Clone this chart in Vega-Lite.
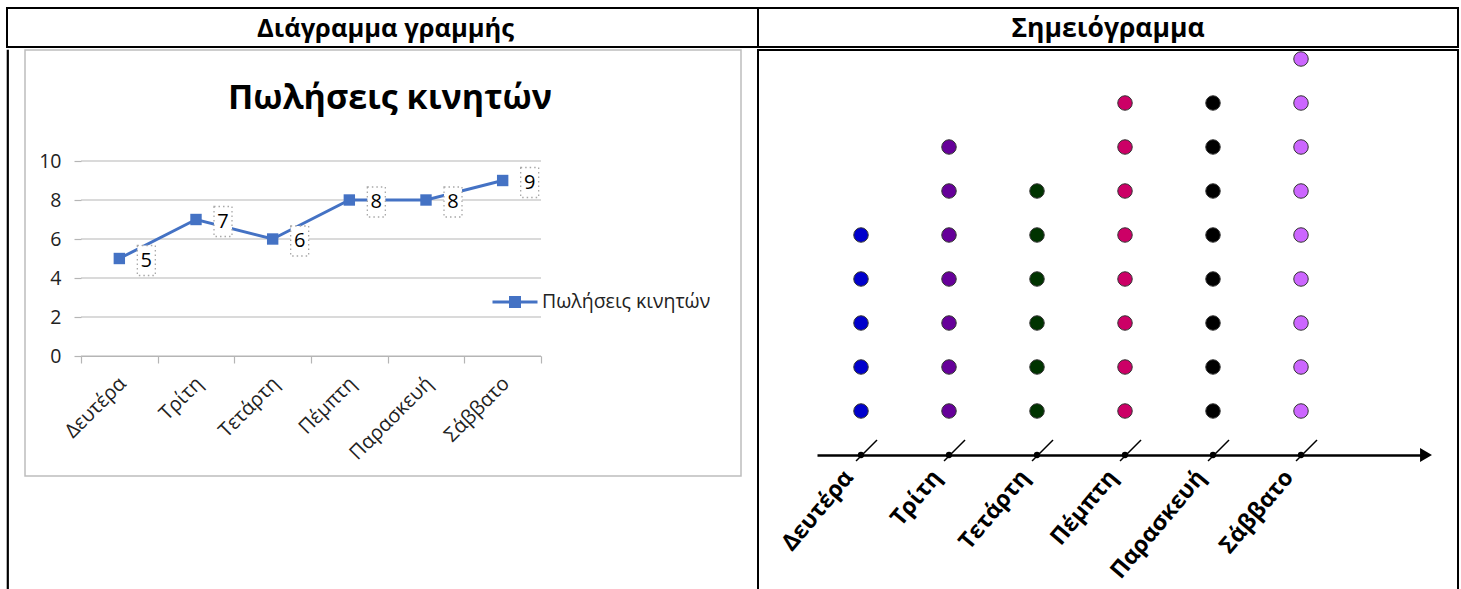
{
  "$schema": "https://vega.github.io/schema/vega-lite/v6.json",
  "padding": {"left": 6, "top": 7, "right": 0, "bottom": 0},
  "background": "white",
  "config": {"font": "Open Sans", "view": {"stroke": null}},
  "datasets": {
    "sales": [
      {"day": "Δευτέρα", "sales": 5, "series": "Πωλήσεις κινητών"},
      {"day": "Τρίτη", "sales": 7, "series": "Πωλήσεις κινητών"},
      {"day": "Τετάρτη", "sales": 6, "series": "Πωλήσεις κινητών"},
      {"day": "Πέμπτη", "sales": 8, "series": "Πωλήσεις κινητών"},
      {"day": "Παρασκευή", "sales": 8, "series": "Πωλήσεις κινητών"},
      {"day": "Σάββατο", "sales": 9, "series": "Πωλήσεις κινητών"}
    ],
    "grid": [{"g": 0}, {"g": 2}, {"g": 4}, {"g": 6}, {"g": 8}, {"g": 10}],
    "dots": [
      {"day": "Δευτέρα", "n": 1}, {"day": "Δευτέρα", "n": 2}, {"day": "Δευτέρα", "n": 3}, {"day": "Δευτέρα", "n": 4}, {"day": "Δευτέρα", "n": 5},
      {"day": "Τρίτη", "n": 1}, {"day": "Τρίτη", "n": 2}, {"day": "Τρίτη", "n": 3}, {"day": "Τρίτη", "n": 4}, {"day": "Τρίτη", "n": 5}, {"day": "Τρίτη", "n": 6}, {"day": "Τρίτη", "n": 7},
      {"day": "Τετάρτη", "n": 1}, {"day": "Τετάρτη", "n": 2}, {"day": "Τετάρτη", "n": 3}, {"day": "Τετάρτη", "n": 4}, {"day": "Τετάρτη", "n": 5}, {"day": "Τετάρτη", "n": 6},
      {"day": "Πέμπτη", "n": 1}, {"day": "Πέμπτη", "n": 2}, {"day": "Πέμπτη", "n": 3}, {"day": "Πέμπτη", "n": 4}, {"day": "Πέμπτη", "n": 5}, {"day": "Πέμπτη", "n": 6}, {"day": "Πέμπτη", "n": 7}, {"day": "Πέμπτη", "n": 8},
      {"day": "Παρασκευή", "n": 1}, {"day": "Παρασκευή", "n": 2}, {"day": "Παρασκευή", "n": 3}, {"day": "Παρασκευή", "n": 4}, {"day": "Παρασκευή", "n": 5}, {"day": "Παρασκευή", "n": 6}, {"day": "Παρασκευή", "n": 7}, {"day": "Παρασκευή", "n": 8},
      {"day": "Σάββατο", "n": 1}, {"day": "Σάββατο", "n": 2}, {"day": "Σάββατο", "n": 3}, {"day": "Σάββατο", "n": 4}, {"day": "Σάββατο", "n": 5}, {"day": "Σάββατο", "n": 6}, {"day": "Σάββατο", "n": 7}, {"day": "Σάββατο", "n": 8}, {"day": "Σάββατο", "n": 9}
    ]
  },
  "spacing": 0,
  "resolve": {"scale": {"color": "independent"}, "legend": {"color": "independent"}},
  "vconcat": [
    {
      "spacing": 0,
      "bounds": "flush",
      "hconcat": [
        {
          "width": 751, "height": 39,
          "view": {"stroke": "black", "strokeWidth": 2},
          "data": {"values": [{"h": "Διάγραμμα γραμμής"}]},
          "mark": {"type": "text", "fontSize": 25.5, "fontWeight": "bold", "color": "black", "dx": 3, "dy": 1},
          "encoding": {"text": {"field": "h"}}
        },
        {
          "width": 700, "height": 39,
          "view": {"stroke": "black", "strokeWidth": 2},
          "data": {"values": [{"h": "Σημειόγραμμα"}]},
          "mark": {"type": "text", "fontSize": 26.5, "fontWeight": "bold", "color": "black", "dy": 1},
          "encoding": {"text": {"field": "h"}}
        }
      ]
    },
    {
      "spacing": 17,
      "bounds": "flush",
      "resolve": {"scale": {"color": "independent"}, "legend": {"color": "independent"}},
      "hconcat": [
        {
          "width": 1, "height": 560,
          "view": {"stroke": "black", "strokeWidth": 1.2},
          "data": {"values": [{"h": ""}]},
          "mark": {"type": "text"},
          "encoding": {"text": {"field": "h"}}
        },
        {
          "width": 716, "height": 426,
          "view": {"stroke": "#bdbdbd", "strokeWidth": 1.5},
          "title": {"text": "Πωλήσεις κινητών", "frame": "group", "anchor": "middle", "offset": -66, "dx": 7, "fontSize": 34, "fontWeight": "bold", "color": "black", "font": "Open Sans"},
          "encoding": {
            "x": {
              "field": "day", "type": "nominal", "sort": null, "title": null,
              "scale": {"type": "band", "domain": ["Δευτέρα", "Τρίτη", "Τετάρτη", "Πέμπτη", "Παρασκευή", "Σάββατο"], "range": [56, 516], "paddingInner": 0, "paddingOuter": 0},
              "axis": {"orient": "bottom", "offset": -120, "title": null, "grid": false, "domainColor": "#b5b5b5", "domainWidth": 1.2, "tickBand": "extent", "tickSize": 7, "tickColor": "#b5b5b5", "tickWidth": 1.2, "labelAngle": -45, "labelFontSize": 20, "labelColor": "#222222", "labelPadding": 10, "labelOffset": -4, "labelOverlap": false, "labelLimit": 0}
            },
            "y": {
              "field": "sales", "type": "quantitative", "title": null,
              "scale": {"domain": [0, 10], "range": [306, 111], "nice": false},
              "axis": {"orient": "left", "offset": -56, "title": null, "grid": false, "domain": false, "values": [0, 2, 4, 6, 8, 10], "tickSize": 7, "tickColor": "#b5b5b5", "tickWidth": 1.2, "labelFontSize": 19.5, "labelColor": "#222222", "labelPadding": 13}
            }
          },
          "layer": [
            {
              "data": {"name": "grid"},
              "mark": {"type": "rule", "color": "#b5b5b5", "strokeWidth": 1.2},
              "encoding": {
                "y": {"field": "g", "type": "quantitative", "title": null},
                "x": {"datum": "Δευτέρα", "type": "nominal", "bandPosition": 0, "title": null},
                "x2": {"datum": "Σάββατο", "bandPosition": 1}
              }
            },
            {
              "data": {"name": "sales"},
              "mark": {"type": "line", "strokeWidth": 3},
              "encoding": {
                "color": {
                  "field": "series", "type": "nominal",
                  "scale": {"domain": ["Πωλήσεις κινητών"], "range": ["#4472C4"]},
                  "legend": {
                    "orient": "none", "legendX": 466, "legendY": 228, "title": null,
                    "labelFontSize": 19.5, "labelColor": "#222222", "labelOffset": 3, "labelLimit": 0,
                    "symbolType": "M-1,0L1,0M-0.2,-0.2L0.2,-0.2L0.2,0.2L-0.2,0.2Z",
                    "symbolSize": 2025, "symbolStrokeWidth": 3,
                    "encode": {"symbols": {"update": {"fill": {"value": "#4472C4"}, "stroke": {"value": "#4472C4"}, "strokeWidth": {"value": 3}}}}
                  }
                }
              }
            },
            {
              "data": {"name": "sales"},
              "mark": {"type": "point", "shape": "M-0.6,-1L0.6,-1L0.6,1L-0.6,1Z", "size": 900, "filled": true, "fill": "white", "stroke": "#a8a8a8", "strokeWidth": 1.3, "strokeDash": [1.5, 3], "xOffset": 27, "yOffset": 2, "opacity": 1}
            },
            {
              "data": {"name": "sales"},
              "mark": {"type": "point", "shape": "square", "size": 130, "filled": true, "color": "#4472C4", "opacity": 1}
            },
            {
              "data": {"name": "sales"},
              "mark": {"type": "text", "fontSize": 20, "color": "black", "dx": 27, "dy": 2},
              "encoding": {
                "text": {"field": "sales", "type": "quantitative"}
              }
            }
          ]
        },
        {
          "width": 700, "height": 560,
          "view": {"stroke": "black", "strokeWidth": 2},
          "encoding": {
            "x": {
              "field": "day", "type": "nominal", "sort": null, "title": null,
              "scale": {"type": "band", "domain": ["Δευτέρα", "Τρίτη", "Τετάρτη", "Πέμπτη", "Παρασκευή", "Σάββατο"], "range": [59, 663], "paddingInner": 0, "paddingOuter": 0.4318, "align": 0},
              "axis": {"orient": "bottom", "offset": -155, "title": null, "grid": false, "domain": true, "domainColor": "black", "domainWidth": 2.5, "ticks": false, "labelAngle": -50, "labelAlign": "right", "labelBaseline": "middle", "labelFontSize": 23, "labelFontWeight": "bold", "labelColor": "black", "labelPadding": 18, "labelOffset": -12, "labelOverlap": false, "labelLimit": 0}
            }
          },
          "layer": [
            {
              "data": {"name": "dots"},
              "mark": {"type": "point", "filled": true, "size": 210, "opacity": 1, "stroke": "#333333", "strokeWidth": 1},
              "encoding": {
                "y": {"field": "n", "type": "quantitative", "scale": {"domain": [0, 9], "range": [405, 9], "nice": false}, "axis": null},
                "color": {
                  "field": "day", "type": "nominal",
                  "scale": {"domain": ["Δευτέρα", "Τρίτη", "Τετάρτη", "Πέμπτη", "Παρασκευή", "Σάββατο"], "range": ["#0000CC", "#660099", "#003300", "#CC0066", "#000000", "#CC66FF"]},
                  "legend": null
                }
              }
            },
            {
              "data": {"name": "sales"},
              "mark": {"type": "point", "shape": "M-0.31,0.375L1,-0.94", "size": 1024, "filled": false, "stroke": "black", "strokeWidth": 1.5, "opacity": 1},
              "encoding": {
                "y": {"datum": 0, "type": "quantitative", "axis": null}
              }
            },
            {
              "data": {"name": "sales"},
              "mark": {"type": "point", "shape": "circle", "size": 40, "filled": true, "color": "black", "opacity": 1},
              "encoding": {
                "y": {"datum": 0, "type": "quantitative", "axis": null}
              }
            },
            {
              "data": {"values": [{"day": "Σάββατο"}]},
              "mark": {"type": "point", "shape": "triangle-right", "size": 190, "filled": true, "color": "black", "opacity": 1, "xOffset": 125},
              "encoding": {
                "y": {"datum": 0, "type": "quantitative", "axis": null}
              }
            }
          ]
        }
      ]
    }
  ]
}
